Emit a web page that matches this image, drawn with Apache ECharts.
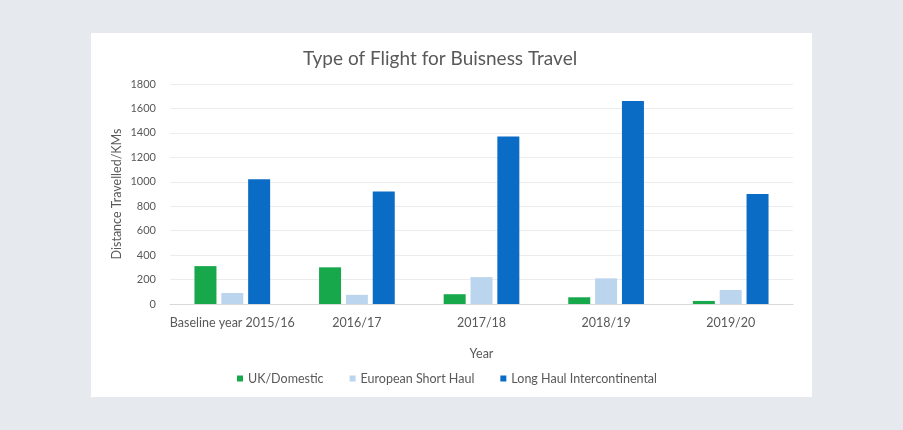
<!DOCTYPE html>
<html>
<head>
<meta charset="utf-8">
<script src="https://cdn.jsdelivr.net/npm/echarts@6/dist/echarts.min.js"></script>
<style>
  html, body { margin: 0; padding: 0; width: 903px; height: 430px; background: #e6e9ed; overflow: hidden; }
  #panel { position: absolute; left: 91px; top: 33px; width: 721px; height: 364px; background: #ffffff; }
  #chart { width: 721px; height: 364px; }
</style>
</head>
<body>
<div id="panel"><div id="chart"></div></div>
<script>
// Business travel distance by flight type, per reporting year
const years = ['Baseline year 2015/16', '2016/17', '2017/18', '2018/19', '2019/20'];
const ukDomestic = [310, 300, 80, 55, 25];
const europeanShortHaul = [90, 75, 220, 210, 115];
const longHaulIntercontinental = [1020, 920, 1370, 1660, 900];
const yTicks = { min: 0, max: 1800, interval: 200 };

const textColor = '#595959';
const fontFamily = 'Lato, "Open Sans", "Liberation Sans", sans-serif';

const chart = echarts.init(document.getElementById('chart'), null, { renderer: 'canvas' });

function barSeries(name, data, color) {
  return {
    name: name,
    type: 'bar',
    data: data,
    barWidth: 22,
    barGap: '22%',
    itemStyle: { color: color },
    emphasis: { disabled: true }
  };
}

chart.setOption({
  animation: false,
  textStyle: { fontFamily: fontFamily },
  title: {
    text: 'Type of Flight for Buisness Travel',
    left: 207,
    top: 11,
    textStyle: { fontFamily: fontFamily, fontSize: 19, fontWeight: 'normal', color: textColor }
  },
  grid: { left: 79, right: 19, top: 51, bottom: 93 },
  legend: {
    bottom: 7,
    left: 141,
    icon: 'rect',
    itemWidth: 6,
    itemHeight: 6,
    itemGap: 26,
    textStyle: { fontFamily: fontFamily, fontSize: 12.5, color: textColor },
    data: ['UK/Domestic', 'European Short Haul', 'Long Haul Intercontinental']
  },
  xAxis: {
    type: 'category',
    data: years,
    name: 'Year',
    nameLocation: 'middle',
    nameGap: 43,
    nameTextStyle: { fontFamily: fontFamily, fontSize: 12.5, color: textColor },
    axisLine: { lineStyle: { color: '#d9d9d9' } },
    axisTick: { show: false },
    axisLabel: { interval: 0, fontFamily: fontFamily, fontSize: 12.5, color: textColor, margin: 12 }
  },
  yAxis: {
    type: 'value',
    min: yTicks.min,
    max: yTicks.max,
    interval: yTicks.interval,
    name: 'Distance Travelled/KMs',
    nameLocation: 'middle',
    nameGap: 47,
    nameMoveOverlap: false,
    nameTextStyle: { fontFamily: fontFamily, fontSize: 12.5, color: textColor },
    axisLine: { show: false },
    axisTick: { show: false },
    axisLabel: { fontFamily: fontFamily, fontSize: 11, color: textColor, margin: 14, formatter: v => String(v) },
    splitLine: { lineStyle: { color: '#ececec', width: 1 } }
  },
  series: [
    barSeries('UK/Domestic', ukDomestic, '#17a84b'),
    barSeries('European Short Haul', europeanShortHaul, '#bcd5ee'),
    barSeries('Long Haul Intercontinental', longHaulIntercontinental, '#0b6cc6')
  ]
});
</script>
</body>
</html>
